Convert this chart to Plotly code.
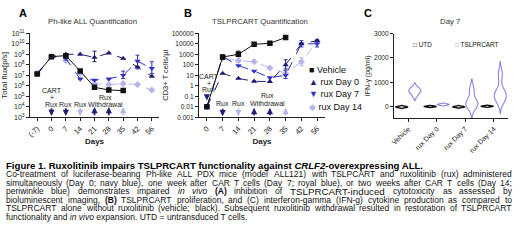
import re
import plotly.graph_objects as go

W, H = 520, 242
FONT = "Liberation Sans, Arial, sans-serif"

# ---------------- data ----------------
days_a = ["(-7)", "0", "7", "14", "21", "28", "35", "42", "56"]
flux_vehicle = [1.35e7, 6.0e8, 7.4e8, 2.6e7, 7.2e5, 4.0e5, 3.5e5, None, None]
flux_rux_d0 = [1.3e7, 6.3e8, 1.0e9, 1.0e9, 5.0e8, 1.3e9, 4.0e8, 6.3e7, 8.0e6]
flux_rux_d7 = [1.3e7, 6.3e8, 4.0e8, 4.5e6, 3.5e6, 4.5e6, 1.0e7, 2.2e8, 4.5e7]
flux_rux_d14 = [1.6e7, 6.3e8, 2.5e8, 1.6e7, 1.6e6, 1.3e6, 1.6e6, 1.3e6, 4.0e5]
flux_rux_d0_err_up = [0, 0, 0, 0, 1.5e9, 0, 0, 0, 0]
flux_rux_d0_err_dn = [0, 0, 0, 0, 3.0e8, 0, 0, 0, 0]
flux_rux_d7_err_up = [0, 0, 0, 0, 0, 0, 1.5e7, 6.0e8, 1.5e8]
flux_rux_d7_err_dn = [0, 0, 0, 0, 0, 0, 5.0e6, 1.8e8, 3.0e7]

days_b = ["0", "7", "14", "21", "28", "35", "42", "56"]
cd3_vehicle = [0.01, 550, 1000, 9000, 11000, 40000, None, None]
cd3_rux_d0 = [0.01, 15, 5, 2.7, 2.5, 100, 10000, 20000]
cd3_rux_d7 = [0.01, 600, 85, 25, 6, 10, 10000, 10000]
cd3_rux_d14 = [0.01, 450, 250, 200, 50, 16, 200, 15000]
cd3_vehicle_err_up = [0, 300, 1000, 2000, 2000, 0, 0, 0]
cd3_vehicle_err_dn = [0, 200, 400, 1500, 1500, 0, 0, 0]
cd3_rux_d0_err_up = [0, 0, 0, 0, 0, 200, 0, 0]
cd3_rux_d0_err_dn = [0, 0, 0, 0, 0, 60, 0, 0]
cd3_rux_d7_err_up = [0, 0, 0, 0, 0, 20, 10000, 15000]
cd3_rux_d7_err_dn = [0, 0, 0, 0, 0, 5, 5000, 5000]
cd3_rux_d14_err_up = [0, 0, 0, 0, 0, 0, 300, 0]
cd3_rux_d14_err_dn = [0, 0, 0, 0, 0, 0, 120, 0]

groups_c = ["Vehicle", "rux Day 0", "rux Day 7", "rux Day 14"]
ifng_utd_vehicle = [-30, -10, 0, 10, 30]
ifng_utd_rux_d0 = [0, 10, 20, 30, 40]
ifng_utd_rux_d7 = [-20, -5, 5, 15, 30]
ifng_utd_rux_d14 = [10, 20, 30, 40, 50]
ifng_cart_vehicle = [450, 600, 650, 700, 800]
ifng_cart_rux_d0 = [70, 90, 100, 110, 130]
ifng_cart_rux_d7 = [-50, 50, 100, 150, 200, 250, 650, 750]
ifng_cart_rux_d14 = [200, 350, 400, 450, 500, 550, 700, 1250, 1400]

series_names = ["Vehicle", "rux Day 0", "rux Day 7", "rux Day 14"]
c_legend = ["UTD", "TSLPRCART"]

caption_title = ("<b>Figure 1. Ruxolitinib impairs TSLPRCART functionality against "
                 "<i>CRLF2</i>-overexpressing ALL.</b>")
caption_lines = [
    "Co-treatment of luciferase-bearing Ph-like ALL PDX mice (model ALL121) with TSLPCART and ruxolitinib (rux) administered",
    "simultaneously (Day 0; navy blue), one week after CAR T cells (Day 7; royal blue), or two weeks after CAR T cells (Day 14;",
    "periwinkle blue) demonstrates impaired <i>in</i> <i>vivo</i> <b>(A)</b> inhibition of TSLPRCART-induced cytotoxicity as assessed by",
    "bioluminescent imaging, <b>(B)</b> TSLPRCART proliferation, and (C) interferon-gamma (IFN-g) cytokine production as compared to",
    "TSLPRCART alone without ruxolitinib (vehicle; black). Subsequent ruxolitinib withdrawal resulted in restoration of TSLPRCART",
]
caption_last = "functionality and <i>in vivo</i> expansion. UTD = untransduced T cells."
big_words = {"TSLPRCART-induced"}

# ---------------- styles ----------------
BLACK = "#111111"
NAVY = "#1f1f72"
ROYAL = "#3232c4"
PERI = "#b6b6e8"
VIOL = "#8686e2"
TXT = "#222222"

REG_W = {' ': 278, '(': 333, ')': 333, ',': 278, '-': 333, '.': 278, ';': 278, ':': 278, '=': 584,
         'A': 667, 'B': 667, 'C': 722, 'D': 722, 'E': 667, 'F': 611, 'G': 778, 'H': 722, 'I': 278,
         'J': 500, 'K': 667, 'L': 556, 'M': 833, 'N': 722, 'O': 778, 'P': 667, 'Q': 778, 'R': 722,
         'S': 667, 'T': 611, 'U': 722, 'V': 667, 'W': 944, 'X': 667, 'Y': 667, 'Z': 611,
         'a': 556, 'b': 556, 'c': 500, 'd': 556, 'e': 556, 'f': 278, 'g': 556, 'h': 556, 'i': 222,
         'j': 222, 'k': 500, 'l': 222, 'm': 833, 'n': 556, 'o': 556, 'p': 556, 'q': 556, 'r': 333,
         's': 500, 't': 278, 'u': 556, 'v': 500, 'w': 722, 'x': 500, 'y': 500, 'z': 500}
BOLD_W = dict(REG_W)
BOLD_W.update({'A': 722, 'B': 722, 'L': 611, 'K': 722, 'J': 556, 'b': 611, 'c': 556, 'd': 611,
               'f': 333, 'g': 611, 'h': 611, 'i': 278, 'j': 278, 'k': 556, 'l': 278, 'm': 889,
               'n': 611, 'o': 611, 'p': 611, 'q': 611, 'r': 389, 's': 556, 't': 333, 'u': 611,
               'v': 556, 'w': 778, 'x': 556, 'y': 556, ';': 333, ':': 333})


def text_em(s, bold=False):
    tab = BOLD_W if bold else REG_W
    return sum(tab.get(ch, 556) for ch in s) / 1000.0


def py(p):
    return 1 - p / H


def px(p):
    return p / W


def err(up, dn, col):
    return dict(type="data", array=up, arrayminus=dn, color=col, thickness=1, width=2,
                visible=True)


fig = go.Figure()

# ---------------- panel A ----------------
specA = [
    (series_names[0], flux_vehicle, BLACK, "square", "solid", None),
    (series_names[1], flux_rux_d0, NAVY, "triangle-up", "dash",
     (flux_rux_d0_err_up, flux_rux_d0_err_dn)),
    (series_names[2], flux_rux_d7, ROYAL, "triangle-down", "dash",
     (flux_rux_d7_err_up, flux_rux_d7_err_dn)),
    (series_names[3], flux_rux_d14, PERI, "diamond", "dash", None),
]
for name, vals, col, sym, dash, e in reversed(specA):
    fig.add_trace(go.Scatter(x=days_a, y=vals, name=name, mode="lines+markers",
                             line=dict(color=col, width=1, dash=dash),
                             marker=dict(color=col, symbol=sym, size=5.5),
                             error_y=err(e[0], e[1], col) if e else None,
                             xaxis="x", yaxis="y", showlegend=False))

# ---------------- panel B ----------------
specB = [
    (series_names[0], cd3_vehicle, BLACK, "square", "solid",
     (cd3_vehicle_err_up, cd3_vehicle_err_dn)),
    (series_names[1], cd3_rux_d0, NAVY, "triangle-up", "dash",
     (cd3_rux_d0_err_up, cd3_rux_d0_err_dn)),
    (series_names[2], cd3_rux_d7, ROYAL, "triangle-down", "dash",
     (cd3_rux_d7_err_up, cd3_rux_d7_err_dn)),
    (series_names[3], cd3_rux_d14, PERI, "diamond", "dash",
     (cd3_rux_d14_err_up, cd3_rux_d14_err_dn)),
]
for name, vals, col, sym, dash, e in reversed(specB):
    fig.add_trace(go.Scatter(x=days_b, y=vals, name=name, mode="lines+markers",
                             line=dict(color=col, width=1, dash=dash),
                             marker=dict(color=col, symbol=sym, size=5.5),
                             error_y=err(e[0], e[1], col),
                             xaxis="x2", yaxis="y2", showlegend=False))

# ---------------- panel C (grouped violins: UTD left, TSLPRCART right of each group) ----------------
utd_sets = [ifng_utd_vehicle, ifng_utd_rux_d0, ifng_utd_rux_d7, ifng_utd_rux_d14]
cart_sets = [ifng_cart_vehicle, ifng_cart_rux_d0, ifng_cart_rux_d7, ifng_cart_rux_d14]
GROUP_OFFSET, VIOLIN_W = 0.23, 0.42
for si, (name, sets, col, lw) in enumerate(((c_legend[0], utd_sets, BLACK, 1.4),
                                             (c_legend[1], cart_sets, VIOL, 1.1))):
    off = -GROUP_OFFSET if si == 0 else GROUP_OFFSET
    for gi, vals in enumerate(sets):
        fig.add_trace(go.Violin(x0=gi + off, y=vals, name=name, orientation="v",
                                width=VIOLIN_W, scalegroup="%s-%d" % (name, gi),
                                line=dict(color=col, width=lw), fillcolor="white",
                                points=False, xaxis="x3", yaxis="y3", showlegend=False,
                                hoveron="violins"))

# ---------------- axes ----------------
axis_common = dict(showline=True, linecolor=TXT, linewidth=1, ticks="outside", ticklen=3,
                   tickwidth=1, tickcolor=TXT, showgrid=False, zeroline=False, automargin=False,
                   tickfont=dict(family=FONT, size=7, color=TXT))
ytop, ybot = 33.3, 117.3
fig.update_layout(
    xaxis=dict(axis_common, domain=[px(30), px(159)], anchor="y", type="category",
               categoryorder="array", categoryarray=days_a, range=[-0.5, 8.5], tickangle=-45,
               tickfont=dict(family=FONT, size=7.5, color=TXT),
               title=dict(text="<b>Days</b>", font=dict(family=FONT, size=8, color=TXT), standoff=0)),
    yaxis=dict(axis_common, domain=[py(ybot), py(ytop)], anchor="x", type="log", range=[3, 11],
               tickvals=[10 ** k for k in range(3, 12)],
               ticktext=["10<sup>%d</sup>" % k for k in range(3, 12)],
               title=dict(text="Total flux[p/s]", font=dict(family=FONT, size=8, color=TXT), standoff=2)),
    xaxis2=dict(axis_common, domain=[px(199), px(325)], anchor="y2", type="category",
                categoryorder="array", categoryarray=days_b, range=[-0.5, 7.5], tickangle=-45,
                tickfont=dict(family=FONT, size=7.5, color=TXT),
                title=dict(text="<b>Days</b>", font=dict(family=FONT, size=8, color=TXT), standoff=0)),
    yaxis2=dict(axis_common, domain=[py(ybot), py(ytop)], anchor="x2", type="log", range=[-3, 5],
                tickvals=[10 ** k for k in range(-3, 6)],
                ticktext=["0.001", "0.01", "0.1", "1", "10", "100", "1000", "10000", "100000"],
                tickfont=dict(family=FONT, size=6.6, color=TXT),
                title=dict(text="CD3+ T cells/µl", font=dict(family=FONT, size=7.5, color=TXT), standoff=2)),
    xaxis3=dict(axis_common, domain=[px(394), px(508)], anchor="y3", type="linear",
                range=[-0.5, 3.5], tickvals=list(range(len(groups_c))), ticktext=groups_c,
                tickangle=-45, tickfont=dict(family=FONT, size=7, color=TXT)),
    yaxis3=dict(axis_common, domain=[py(118), py(33.5)], anchor="x3", range=[-450, 3000],
                tickvals=[0, 1000, 2000, 3000],
                tickfont=dict(family=FONT, size=6.6, color=TXT),
                title=dict(text="IFN-γ (pg/ml)", font=dict(family=FONT, size=7, color=TXT), standoff=2)),
    violinmode="overlay",
)

# ---------------- annotations ----------------
ann = []


def add_text(x, y, text, size, color=TXT, xref="paper", xanchor="center", yanchor="middle"):
    ann.append(dict(x=x, y=y, xref=xref, yref="paper", text=text, showarrow=False,
                    font=dict(family=FONT, size=size, color=color), xanchor=xanchor,
                    yanchor=yanchor, borderpad=0))


def add_arrow(xref, yref, xi, y_head, y_tail, color):
    ann.append(dict(xref=xref, yref=yref, axref=xref, ayref=yref, x=xi, y=y_head, ax=xi,
                    ay=y_tail, text="", showarrow=True, arrowhead=2, arrowsize=0.7,
                    arrowwidth=1.8, arrowcolor=color, standoff=0, startstandoff=0))


# panel letters and titles
add_text(px(23), py(13), "<b>A</b>", 11, "#000")
add_text(px(188), py(13), "<b>B</b>", 11, "#000")
add_text(px(368), py(13), "<b>C</b>", 11, "#000")
add_text(px(92), py(21), "Ph-like ALL Quantification", 7.8, "#333")
add_text(px(260), py(21), "TSLPRCART Quantification", 7.8, "#333")
add_text(px(450), py(21), "Day 7", 7.8, "#333")

# panel A treatment annotations
add_text(1, py(90), "CART", 7.0, xref="x")
add_text(1, py(97), "+", 7.0, xref="x")
for i in (1, 2, 3):
    add_text(i, py(104), "Rux", 7.0, xref="x")
add_text(4.8, py(97), "Rux", 7.0, xref="x")
add_text(4.8, py(104), "Withdrawal", 7.0, xref="x")
for i, col in ((1, NAVY), (2, NAVY), (3, PERI)):
    add_arrow("x", "y", i, 3.12, 4.0, col)
for i, col in ((4, NAVY), (5, NAVY), (6, PERI)):
    add_arrow("x", "y", i, 3.98, 3.05, col)

# panel B treatment annotations
add_text(0.12, py(76), "CART", 7.0, xref="x2")
add_text(0.12, py(83), "+", 7.0, xref="x2")
add_text(0.12, py(89), "Rux", 7.0, xref="x2")
add_arrow("x2", "y2", 0, -1.4, -0.7, NAVY)
for i in (1, 2):
    add_text(i, py(103), "Rux", 7.0, xref="x2")
add_text(3.88, py(95), "Rux", 7.0, xref="x2")
add_text(3.88, py(103), "Withdrawal", 7.0, xref="x2")
for i, col in ((1, NAVY), (2, PERI)):
    add_arrow("x2", "y2", i, -2.9, -2.05, col)
for i, col in ((3, NAVY), (4, NAVY), (5, PERI)):
    add_arrow("x2", "y2", i, -2.1, -2.95, col)

# legend B (marker glyphs + labels)
legB = [("■", BLACK), ("▲", NAVY), ("▼", ROYAL), ("◆", PERI)]
for k, ((glyph, col), name) in enumerate(zip(legB, series_names)):
    add_text(px(308), py(70 + 12.2 * k),
             '<span style="color:%s">%s</span> %s' % (col, glyph, name), 9, "#111",
             xanchor="left")

# legend C
add_text(px(412), py(45), '<span style="color:#000"><b>□</b></span> %s' % c_legend[0], 6.4,
         "#111", xanchor="left")
add_text(px(454), py(45), '<span style="color:%s">□</span> %s' % (VIOL, c_legend[1]), 6.4,
         "#111", xanchor="left")

# ---------------- caption ----------------
CAP_X0, CAP_X1 = 5.0, 511.0
CAP_FS = 8.5
add_text(px(CAP_X0), py(165.5), caption_title, 9.6, "#000", xanchor="left")
line_y0, line_dy = 174.0, 8.5
for li, line in enumerate(caption_lines):
    words = line.split(" ")
    sizes, widths = [], []
    for wd in words:
        plain = re.sub(r"<[^>]+>", "", wd)
        fs = CAP_FS * (1.15 if plain in big_words else 1.0)
        sizes.append(fs)
        widths.append(text_em(plain, "<b>" in wd) * fs)
    gap = (CAP_X1 - CAP_X0 - sum(widths)) / (len(words) - 1)
    xcur = CAP_X0
    yline = line_y0 + li * line_dy
    for wd, fs, wdt in zip(words, sizes, widths):
        add_text(px(xcur), py(yline), wd, fs, "#111", xanchor="left")
        xcur += wdt + gap
add_text(px(CAP_X0), py(line_y0 + len(caption_lines) * line_dy), caption_last, CAP_FS, "#111",
         xanchor="left")

fig.update_layout(annotations=ann)

# dotted withdrawal boxes
fig.add_shape(type="rect", xref="x", yref="y", x0=3.55, x1=6.1, y0=3, y1=5.5,
              line=dict(color="#111", width=1.2, dash="dot"))
fig.add_shape(type="rect", xref="x2", yref="y2", x0=2.6, x1=5.15, y0=-3, y1=-0.45,
              line=dict(color="#111", width=1.4, dash="dot"))

fig.update_layout(width=W, height=H, margin=dict(l=0, r=0, t=0, b=0, autoexpand=False),
                  paper_bgcolor="white", plot_bgcolor="white", showlegend=False,
                  font=dict(family=FONT, color=TXT))

fig.write_html("out.html", config={"displayModeBar": False},
               post_script="document.body.style.margin='0';document.body.style.overflow='hidden';")
